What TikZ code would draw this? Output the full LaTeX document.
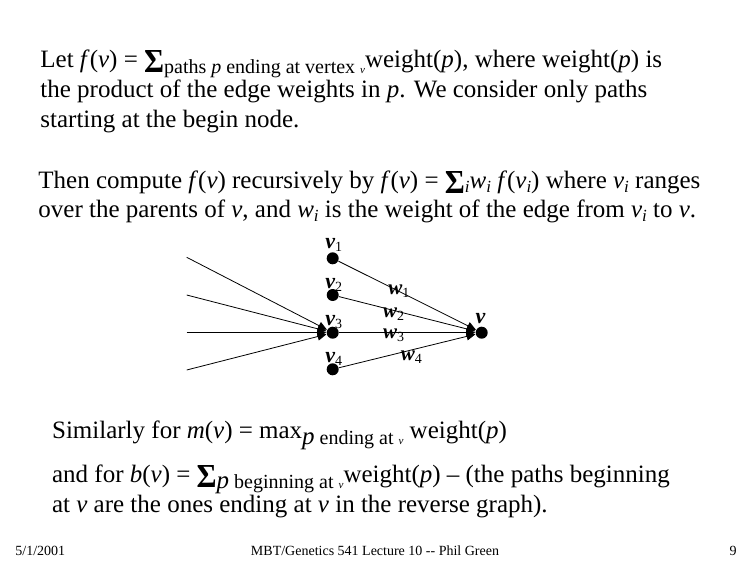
\documentclass[tikz,border=0pt]{standalone}
\usepackage{graphicx}
\usepackage{fontspec}
\setmainfont{Liberation Serif}
\usetikzlibrary{arrows.meta,positioning}

\newcommand{\bigsig}{\raisebox{-5.5pt}{\resizebox{20pt}{22pt}{\bfseries Σ}}}
\newcommand{\lowsub}[1]{\raisebox{-6pt}{\fontsize{20}{20}\selectfont #1}}
\newcommand{\isub}{\raisebox{-4pt}{\fontsize{17}{17}\selectfont\textit{i}}}
\newcommand{\tinyv}{{\fontsize{11}{11}\selectfont\textit{v}}}
\newcommand{\dlab}[2]{{\bfseries\itshape #1}\raisebox{-3pt}{\fontsize{14}{14}\selectfont #2}}

\begin{document}
\begin{tikzpicture}[x=1pt, y=-1pt, >={Triangle[length=9pt,width=8pt]}, line width=0.8pt,
    txt/.style={anchor=base west, inner sep=0pt, font=\fontsize{25}{28}\selectfont},
    foot/.style={inner sep=0pt, font=\fontsize{14}{16}\selectfont},
    dot/.style={circle, fill, inner sep=0pt, minimum size=12pt},
    vlab/.style={inner sep=0pt, font=\fontsize{22}{22}\selectfont},
    wlab/.style={inner sep=0pt, font=\fontsize{21}{21}\selectfont}]
    \useasboundingbox (0,0) rectangle (750,562);

    % text above the graph
    \node[txt] (p1a) at (40,67)  {Let \textit{f}(\textit{v}) = \bigsig\lowsub{paths \textit{p} ending at vertex \tinyv}weight(\textit{p}), where weight(\textit{p}) is};
    \node[txt] (p1b) at (40,97)  {the product of the edge weights in \textit{p}. We consider only paths};
    \node[txt] (p1c) at (40,127) {starting at the begin node.};
    \node[txt] (p2a) at (38,188) {Then compute \textit{f}(\textit{v}) recursively by \textit{f}(\textit{v}) = \bigsig\isub\textit{w}\isub{} \textit{f}(\textit{v}\isub) where \textit{v}\isub{} ranges};
    \node[txt] (p2b) at (38,217) {over the parents of \textit{v}, and \textit{w}\isub{} is the weight of the edge from \textit{v}\isub{} to \textit{v}.};

    % the graph
    \node[dot] (v1) at (332.7,258.3) {};
    \node[dot] (v2) at (332.7,295)   {};
    \node[dot] (v3) at (332.7,332.7) {};
    \node[dot] (v4) at (332.7,369.3) {};
    \node[dot] (v)  at (481.7,332.7) {};

    \node[vlab, above=0pt of v1,  xshift=1pt]  (lv1) {\dlab{v}{1}};
    \node[vlab, above=-3pt of v2, xshift=1pt]  (lv2) {\dlab{v}{2}};
    \node[vlab, above=-3pt of v3, xshift=1pt]  (lv3) {\dlab{v}{3}};
    \node[vlab, above=-3pt of v4, xshift=1pt]  (lv4) {\dlab{v}{4}};
    \node[vlab, above=2pt of v,   xshift=-1pt] (lv)  {\textbf{\textit{v}}};

    \coordinate (in1) at (186.7,257.3);
    \coordinate (in2) at (186.7,295);
    \coordinate (in3) at (186.7,332.7);
    \coordinate (in4) at (186.7,370);

    \foreach \s in {in1,in2,in3,in4}
        \draw[->] (\s) -- (v3);

    \draw[->] (v1) -- node[wlab, pos=0.44]              (w1) {\dlab{w}{1}} (v);
    \draw[->] (v2) -- node[wlab, pos=0.40, yshift=-4pt] (w2) {\dlab{w}{2}} (v);
    \draw[->] (v3) -- node[wlab, pos=0.40, yshift=-3pt] (w3) {\dlab{w}{3}} (v);
    \draw[->] (v4) -- node[wlab, pos=0.53, yshift=-7pt] (w4) {\dlab{w}{4}} (v);

    % text below the graph
    \node[txt] (p3a) at (51.7,438) {Similarly for \textit{m}(\textit{v}) = max\lowsub{\textit{\fontsize{25}{25}\selectfont p} ending at \tinyv} weight(\textit{p})};
    \node[txt] (p3b) at (51.7,482) {and for \textit{b}(\textit{v}) = \bigsig\lowsub{\textit{\fontsize{25}{25}\selectfont p} beginning at \tinyv}weight(\textit{p}) – (the paths beginning};
    \node[txt] (p3c) at (51.7,512) {at \textit{v} are the ones ending at \textit{v} in the reverse graph).};

    % footer
    \node[foot, anchor=base west] (date)  at (15,555)  {5/1/2001};
    \node[foot, anchor=base]      (title) at (375,555) {MBT/Genetics 541 Lecture 10 -{}- Phil Green};
    \node[foot, anchor=base east] (page)  at (737,555) {9};
\end{tikzpicture}
\end{document}
